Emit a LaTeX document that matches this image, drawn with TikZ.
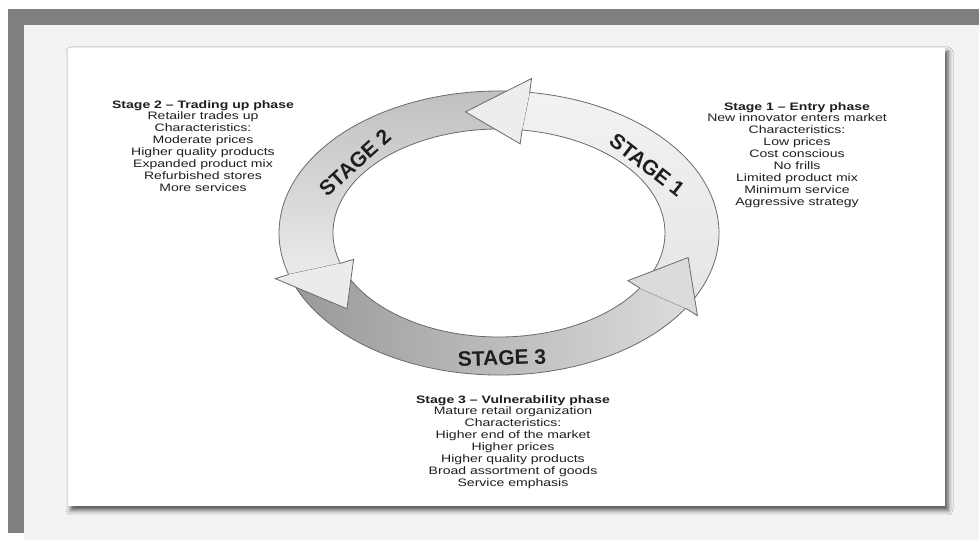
\documentclass[tikz,border=0pt]{standalone}
\usepackage{fontspec}
\setmainfont{Liberation Sans}
\newfontfamily\phasefont{Liberation Sans}[FakeStretch=1.3]
\usetikzlibrary{calc,shadows.blur}
\definecolor{framegray}{HTML}{808080}
\definecolor{panelgray}{HTML}{F3F3F3}
\definecolor{ringedge}{HTML}{6A6A6A}
\definecolor{labelink}{HTML}{1E1E1E}

\begin{document}
\begin{tikzpicture}[x=1pt,y=1pt,
        ringline/.style={draw=ringedge,line width=0.8pt,line join=miter},
        stagelabel/.style={font=\bfseries\fontsize{21}{21}\selectfont,text=labelink,inner sep=0pt},
        phasetext/.style={font=\phasefont\fontsize{10.8}{11.9}\selectfont,align=center,anchor=north,inner sep=0pt,text=labelink}]
        \useasboundingbox (0,0) rectangle (979,540);
        % page frame and card
        \fill[white] (0,0) rectangle (979,540);
        \fill[panelgray] (24,0) rectangle (979,515);
        \fill[framegray] (8,515) rectangle (979,531);
        \fill[framegray] (8,7) rectangle (24,515);
        \path[fill=white,blur shadow={shadow xshift=3pt,shadow yshift=-4pt,shadow blur radius=5pt,shadow opacity=70}] (68,34) rectangle (945,492);
        \coordinate (C) at (499,307);
        % arrow bodies
        \path[ringline,top color=black!5,bottom color=black!10] ($(C)+(-28:220 and 142)$) arc[start angle=-28,end angle=82,x radius=220,y radius=142]
            -- ($(C)+(82:166 and 104)$) arc[start angle=82,end angle=-28,x radius=166,y radius=104] -- cycle;
        \path[ringline,top color=black!25,bottom color=black!8] ($(C)+(86:220 and 142)$) arc[start angle=86,end angle=197,x radius=220,y radius=142]
            -- ($(C)+(197:166 and 104)$) arc[start angle=197,end angle=86,x radius=166,y radius=104] -- cycle;
        \path[ringline,left color=black!40,right color=black!14] ($(C)+(201:220 and 142)$) arc[start angle=201,end angle=328,x radius=220,y radius=142]
            -- ($(C)+(328:166 and 104)$) arc[start angle=328,end angle=201,x radius=166,y radius=104] -- cycle;
        % arrow heads
        \path[ringline,fill=black!7] ($(C)+(82:220 and 142)$) -- ($(C)+(82:234 and 156)$) -- ($(C)+(100:193 and 123)$)
            -- ($(C)+(82:152 and 90)$) -- ($(C)+(82:166 and 104)$);
        \path[ringline,fill=black!8] ($(C)+(197:220 and 142)$) -- ($(C)+(197:234 and 156)$) -- ($(C)+(218:193 and 123)$)
            -- ($(C)+(197:152 and 90)$) -- ($(C)+(197:166 and 104)$);
        \path[ringline,fill=black!14] ($(C)+(328:220 and 142)$) -- ($(C)+(328:234 and 156)$) -- ($(C)+(348.5:193 and 123)$)
            -- ($(C)+(328:152 and 90)$) -- ($(C)+(328:166 and 104)$);
        % stage labels
        \node[stagelabel,rotate=-38] (stageone) at (647,375) {STAGE 1};
        \node[stagelabel,rotate=42] (stagetwo) at (355,377) {STAGE 2};
        \node[stagelabel,rotate=2] (stagethree) at (502,182) {STAGE 3};
        % phase descriptions
        \node[phasetext] (entry) at (797,438) {\textbf{Stage 1 – Entry phase}\\New innovator enters market\\Characteristics:\\Low prices\\Cost conscious\\No frills\\Limited product mix\\Minimum service\\Aggressive strategy};
        \node[phasetext] (tradeup) at (203,440) {\textbf{Stage 2 – Trading up phase}\\Retailer trades up\\Characteristics:\\Moderate prices\\Higher quality products\\Expanded product mix\\Refurbished stores\\More services};
        \node[phasetext] (vulnerable) at (513,145) {\textbf{Stage 3 – Vulnerability phase}\\Mature retail organization\\Characteristics:\\Higher end of the market\\Higher prices\\Higher quality products\\Broad assortment of goods\\Service emphasis};
    \end{tikzpicture}
\end{document}
